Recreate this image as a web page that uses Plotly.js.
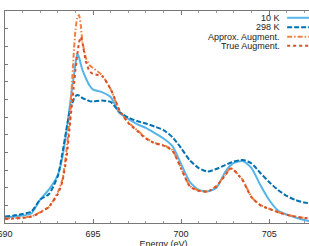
<!DOCTYPE html>
<html>
<head>
<meta charset="utf-8">
<script src="https://cdn.plot.ly/plotly-3.0.1.min.js"></script>
<style>
html,body{margin:0;padding:0;overflow:hidden;background:#fff;width:309px;height:246px;}
#chart{width:340px;height:260px;}
</style>
</head>
<body>
<div id="chart"></div>
<script>
// Energy grid (eV)
const energy = [690, 690.5, 691, 691.5, 692, 692.5, 693, 693.25, 693.5, 693.7, 693.8, 693.9, 694.0, 694.1, 694.2, 694.3, 694.4, 694.6, 694.8, 695, 695.5, 696, 696.5, 697, 697.5, 698, 698.5, 699, 699.5, 700, 700.5, 701, 701.5, 702, 702.5, 702.8, 703, 703.5, 704, 704.5, 705, 705.5, 706, 706.5, 707, 707.5, 708];

const k10 = [0.031, 0.037, 0.042, 0.054, 0.133, 0.19, 0.272, 0.368, 0.526, 0.679, 0.758, 0.826, 0.90, 0.956, 0.939, 0.90, 0.866, 0.818, 0.778, 0.755, 0.741, 0.713, 0.623, 0.589, 0.56, 0.538, 0.509, 0.478, 0.436, 0.334, 0.232, 0.187, 0.179, 0.198, 0.289, 0.325, 0.34, 0.351, 0.311, 0.215, 0.13, 0.071, 0.048, 0.031, 0.017, 0.008, 0.003];

const k298 = [0.037, 0.042, 0.051, 0.065, 0.133, 0.164, 0.266, 0.39, 0.538, 0.645, 0.673, 0.699, 0.716, 0.724, 0.722, 0.716, 0.707, 0.699, 0.69, 0.688, 0.693, 0.685, 0.628, 0.597, 0.577, 0.563, 0.546, 0.526, 0.487, 0.424, 0.354, 0.311, 0.291, 0.306, 0.328, 0.341, 0.348, 0.357, 0.337, 0.283, 0.232, 0.187, 0.153, 0.13, 0.116, 0.108, 0.102];

const approxAug = [0.025, 0.028, 0.031, 0.037, 0.062, 0.091, 0.175, 0.243, 0.419, 0.628, 0.787, 0.951, 1.092, 1.16, 1.177, 1.12, 1.024, 0.934, 0.894, 0.877, 0.838, 0.758, 0.634, 0.57, 0.526, 0.481, 0.453, 0.441, 0.413, 0.311, 0.209, 0.184, 0.179, 0.209, 0.272, 0.311, 0.3, 0.243, 0.147, 0.102, 0.081, 0.062, 0.047, 0.037, 0.029, 0.025, 0.023];

const trueAug = [0.023, 0.025, 0.028, 0.037, 0.059, 0.093, 0.164, 0.232, 0.374, 0.572, 0.673, 0.764, 0.866, 0.951, 1.019, 1.053, 1.019, 0.911, 0.86, 0.843, 0.832, 0.758, 0.64, 0.566, 0.522, 0.478, 0.451, 0.438, 0.41, 0.308, 0.207, 0.182, 0.178, 0.207, 0.27, 0.309, 0.298, 0.24, 0.145, 0.1, 0.08, 0.061, 0.046, 0.036, 0.028, 0.024, 0.022];

const seriesNames = ["10 K", "298 K", "Approx. Augment.", "True Augment."];
const seriesColors = ["#56B4E9", "#0072B2", "#F08040", "#D85028"];
const seriesDash = ["solid", "5px,2px", "5px,2px,1.5px,2px", "dot"];
const seriesData = [k10, k298, approxAug, trueAug];

const xTickVals = [690, 695, 700, 705];
const xTickText = ["690", "695", "700", "705"];

const traces = seriesData.map((ys, i) => ({
  x: energy, y: ys, type: "scatter", mode: "lines", name: seriesNames[i],
  line: {color: seriesColors[i], width: 2, dash: seriesDash[i], shape: "spline", smoothing: 0.6},
  showlegend: false, hoverinfo: "skip"
}));

// Legend built from annotations (text right-aligned, sample to the right)
const legY = [0.968, 0.923, 0.879, 0.836];
const annotations = seriesNames.map((n, i) => ({
  xref: "paper", yref: "paper", x: 0.873, y: legY[i], xanchor: "right", yanchor: "middle",
  text: n, showarrow: false, font: {family: "Liberation Sans, Arial, sans-serif", size: 9, color: "#222"}
}));
const shapes = seriesNames.map((n, i) => ({
  type: "line", xref: "paper", yref: "paper", x0: 0.89, x1: 0.98, y0: legY[i], y1: legY[i],
  line: {color: seriesColors[i], width: 2, dash: seriesDash[i]}
}));

const layout = {
  width: 340, height: 260,
  margin: {l: 5, r: 18.2, t: 11, b: 37, pad: 0},
  paper_bgcolor: "#fff", plot_bgcolor: "#fff",
  font: {family: "Liberation Sans, Arial, sans-serif", size: 9, color: "#222"},
  showlegend: false,
  xaxis: {
    range: [690, 708], tickvals: xTickVals, ticktext: xTickText,
    ticks: "inside", ticklen: 4, tickcolor: "#777", tickwidth: 1,
    minor: {dtick: 1, ticks: "inside", ticklen: 2, tickcolor: "#999", showgrid: false},
    showline: true, linecolor: "#777", linewidth: 1, mirror: "ticks",
    showgrid: false, zeroline: false, automargin: false,
    ticklabeloverflow: "allow", ticklabelstandoff: 2,
    title: {text: "Energy (eV)", standoff: 2, font: {size: 9, color: "#222"}},
    tickfont: {size: 9, color: "#222"}
  },
  yaxis: {
    range: [0, 1.2], dtick: 0.1, tick0: 0,
    ticks: "inside", ticklen: 3, tickcolor: "#777",
    showline: true, linecolor: "#777", linewidth: 1, mirror: "ticks",
    showgrid: false, zeroline: false, showticklabels: false, automargin: false
  },
  annotations: annotations,
  shapes: shapes
};

Plotly.newPlot("chart", traces, layout, {staticPlot: true, displayModeBar: false});
</script>
</body>
</html>
